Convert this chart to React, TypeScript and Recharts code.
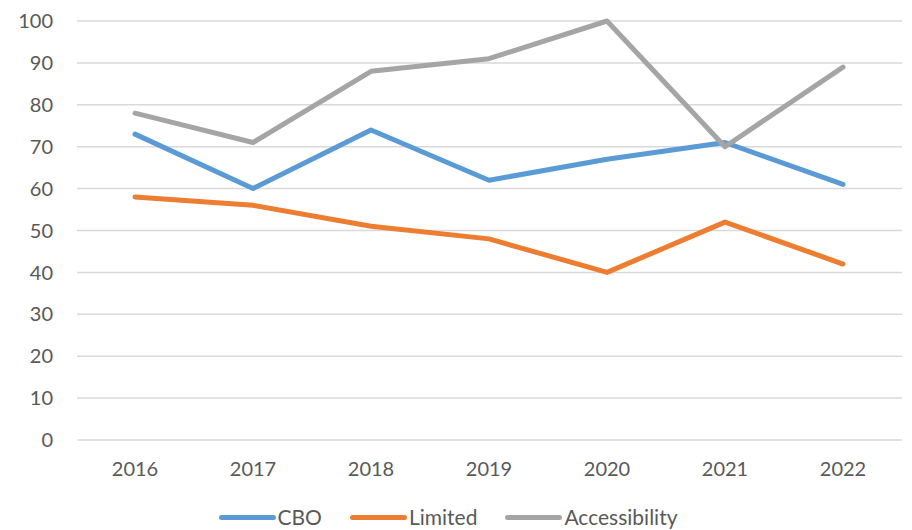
import React from 'react';
import { LineChart, Line, XAxis, YAxis, CartesianGrid, Legend } from 'recharts';

const years = ['2016', '2017', '2018', '2019', '2020', '2021', '2022'];
const cbo = [73, 60, 74, 62, 67, 71, 61];
const limited = [58, 56, 51, 48, 40, 52, 42];
const accessibility = [78, 71, 88, 91, 100, 70, 89];
const yTicks = [0, 10, 20, 30, 40, 50, 60, 70, 80, 90, 100];

const seriesNames = ['CBO', 'Limited', 'Accessibility'];
const seriesColors = ['#5B9BD5', '#ED7D31', '#A5A5A5'];

const data = years.map((y, i) => ({
  year: y,
  CBO: cbo[i],
  Limited: limited[i],
  Accessibility: accessibility[i],
}));

const FONT = 'Lato, "Open Sans", sans-serif';

const LegendContent = () => (
  <div
    style={{
      display: 'flex',
      justifyContent: 'center',
      alignItems: 'center',
      fontFamily: FONT,
      fontSize: 21,
      lineHeight: '22px',
      height: 22,
      color: '#595959',
      paddingRight: 16,
    }}
  >
    {seriesNames.map((n, i) => (
      <div key={n} style={{ display: 'flex', alignItems: 'center', marginRight: i < 2 ? 28 : 0 }}>
        <div
          style={{
            width: 57,
            height: 5,
            borderRadius: 3,
            background: seriesColors[i],
            marginRight: 2,
          }}
        />
        <span>{n}</span>
      </div>
    ))}
  </div>
);

export default function App() {
  return (
    <div style={{ position: 'absolute', left: 0, top: 0, width: 912, height: 530, background: '#fff', overflow: 'hidden' }}>
      <LineChart
        width={912}
        height={530}
        data={data}
        margin={{ top: 21, right: 10, left: 0, bottom: 18 }}
      >
        <CartesianGrid vertical={false} stroke="#D9D9D9" strokeWidth={1.5} />
        <XAxis
          dataKey="year"
          axisLine={false}
          tickLine={false}
          tickSize={0}
          tickMargin={22}
          padding={{ left: 58, right: 59 }}
          tick={{ fill: '#595959', fontSize: 20, fontFamily: FONT }}
          height={50}
        />
        <YAxis
          domain={[0, 100]}
          ticks={yTicks}
          axisLine={false}
          tickLine={false}
          tickSize={0}
          tickMargin={24}
          width={77}
          tick={{ fill: '#595959', fontSize: 20, fontFamily: FONT }}
          interval={0}
        />
        {seriesNames.map((n, i) => (
          <Line
            key={n}
            dataKey={n}
            stroke={seriesColors[i]}
            strokeWidth={5}
            dot={false}
            isAnimationActive={false}
            strokeLinejoin="round"
            strokeLinecap="round"
          />
        ))}
        <Legend
          content={<LegendContent />}
          wrapperStyle={{ position: 'absolute', top: 506, left: 0, width: 912 }}
        />
      </LineChart>
    </div>
  );
}
